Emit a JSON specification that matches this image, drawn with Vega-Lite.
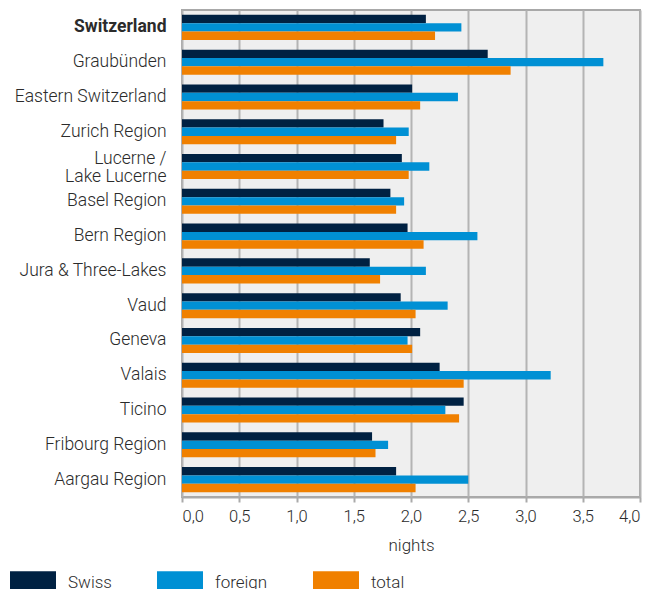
{
  "$schema": "https://vega.github.io/schema/vega-lite/v6.json",
  "width": 458,
  "height": 487,
  "autosize": {"type": "none"},
  "padding": {"left": 182, "top": 10, "right": 14, "bottom": 92},
  "background": "white",
  "config": {
    "font": "Roboto Light, Roboto",
    "view": {"fill": "#efefef", "stroke": "#a8a8a8", "strokeWidth": 2}
  },
  "data": {
    "values": [
      {"region": "Switzerland", "type": "Swiss", "value": 2.13},
      {"region": "Switzerland", "type": "foreign", "value": 2.44},
      {"region": "Switzerland", "type": "total", "value": 2.21},
      {"region": "Graubünden", "type": "Swiss", "value": 2.67},
      {"region": "Graubünden", "type": "foreign", "value": 3.68},
      {"region": "Graubünden", "type": "total", "value": 2.87},
      {"region": "Eastern Switzerland", "type": "Swiss", "value": 2.01},
      {"region": "Eastern Switzerland", "type": "foreign", "value": 2.41},
      {"region": "Eastern Switzerland", "type": "total", "value": 2.08},
      {"region": "Zurich Region", "type": "Swiss", "value": 1.76},
      {"region": "Zurich Region", "type": "foreign", "value": 1.98},
      {"region": "Zurich Region", "type": "total", "value": 1.87},
      {"region": "Lucerne / Lake Lucerne", "type": "Swiss", "value": 1.92},
      {"region": "Lucerne / Lake Lucerne", "type": "foreign", "value": 2.16},
      {"region": "Lucerne / Lake Lucerne", "type": "total", "value": 1.98},
      {"region": "Basel Region", "type": "Swiss", "value": 1.82},
      {"region": "Basel Region", "type": "foreign", "value": 1.94},
      {"region": "Basel Region", "type": "total", "value": 1.87},
      {"region": "Bern Region", "type": "Swiss", "value": 1.97},
      {"region": "Bern Region", "type": "foreign", "value": 2.58},
      {"region": "Bern Region", "type": "total", "value": 2.11},
      {"region": "Jura & Three-Lakes", "type": "Swiss", "value": 1.64},
      {"region": "Jura & Three-Lakes", "type": "foreign", "value": 2.13},
      {"region": "Jura & Three-Lakes", "type": "total", "value": 1.73},
      {"region": "Vaud", "type": "Swiss", "value": 1.91},
      {"region": "Vaud", "type": "foreign", "value": 2.32},
      {"region": "Vaud", "type": "total", "value": 2.04},
      {"region": "Geneva", "type": "Swiss", "value": 2.08},
      {"region": "Geneva", "type": "foreign", "value": 1.97},
      {"region": "Geneva", "type": "total", "value": 2.01},
      {"region": "Valais", "type": "Swiss", "value": 2.25},
      {"region": "Valais", "type": "foreign", "value": 3.22},
      {"region": "Valais", "type": "total", "value": 2.46},
      {"region": "Ticino", "type": "Swiss", "value": 2.46},
      {"region": "Ticino", "type": "foreign", "value": 2.30},
      {"region": "Ticino", "type": "total", "value": 2.42},
      {"region": "Fribourg Region", "type": "Swiss", "value": 1.66},
      {"region": "Fribourg Region", "type": "foreign", "value": 1.80},
      {"region": "Fribourg Region", "type": "total", "value": 1.69},
      {"region": "Aargau Region", "type": "Swiss", "value": 1.87},
      {"region": "Aargau Region", "type": "foreign", "value": 2.50},
      {"region": "Aargau Region", "type": "total", "value": 2.04}
    ]
  },
  "mark": {"type": "bar"},
  "encoding": {
    "y": {
      "field": "region",
      "type": "nominal",
      "sort": ["Switzerland", "Graubünden", "Eastern Switzerland", "Zurich Region", "Lucerne / Lake Lucerne", "Basel Region", "Bern Region", "Jura & Three-Lakes", "Vaud", "Geneva", "Valais", "Ticino", "Fribourg Region", "Aargau Region"],
      "scale": {"paddingInner": 0.28, "paddingOuter": 0.14},
      "axis": {
        "title": null,
        "ticks": false,
        "domain": false,
        "labelPadding": 16,
        "labelFontSize": 17.5,
        "labelColor": "#2b2b2b",
        "labelLineHeight": 18,
        "labelFont": {"condition": {"test": "datum.value === 'Switzerland'", "value": "Roboto"}, "value": "Roboto Light, Roboto"},
        "labelFontWeight": {"condition": {"test": "datum.value === 'Switzerland'", "value": "bold"}, "value": 300},
        "labelOffset": {"condition": {"test": "datum.value === 'Lucerne / Lake Lucerne'", "value": -7.5}, "value": 0},
        "labelExpr": "datum.value === 'Lucerne / Lake Lucerne' ? ['Lucerne /', 'Lake Lucerne'] : datum.value"
      }
    },
    "yOffset": {"field": "type", "type": "nominal", "sort": ["Swiss", "foreign", "total"]},
    "x": {
      "field": "value",
      "type": "quantitative",
      "scale": {"domain": [0, 4]},
      "axis": {
        "title": "nights",
        "titleFontSize": 17,
        "titleFontWeight": 300,
        "titleColor": "#2b2b2b",
        "titlePadding": 13,
        "values": [0, 0.5, 1, 1.5, 2, 2.5, 3, 3.5, 4],
        "labelExpr": "replace(format(datum.value, '.1f'), '.', ',')",
        "labelFontSize": 16.5,
        "labelFontWeight": 300,
        "labelColor": "#2b2b2b",
        "labelPadding": 6,
        "tickSize": 5,
        "tickWidth": 2,
        "tickColor": "#aaaaaa",
        "domainColor": "#aaaaaa",
        "domainWidth": 2,
        "gridColor": "#b4b4b4",
        "gridWidth": 2
      }
    },
    "color": {
      "field": "type",
      "type": "nominal",
      "scale": {"domain": ["Swiss", "foreign", "total"], "range": ["#002142", "#0090d4", "#f08000"]},
      "legend": {
        "title": null,
        "orient": "none",
        "legendX": -172,
        "legendY": 549.5,
        "direction": "horizontal",
        "padding": 0,
        "symbolType": "M-1,-0.5H1V0.5H-1Z",
        "symbolSize": 2116,
        "symbolStrokeWidth": 0,
        "symbolOpacity": 1,
        "labelFontSize": 17,
        "labelFontWeight": 300,
        "labelColor": "#2b2b2b",
        "labelOffset": 12,
        "columnPadding": 45
      }
    }
  }
}
